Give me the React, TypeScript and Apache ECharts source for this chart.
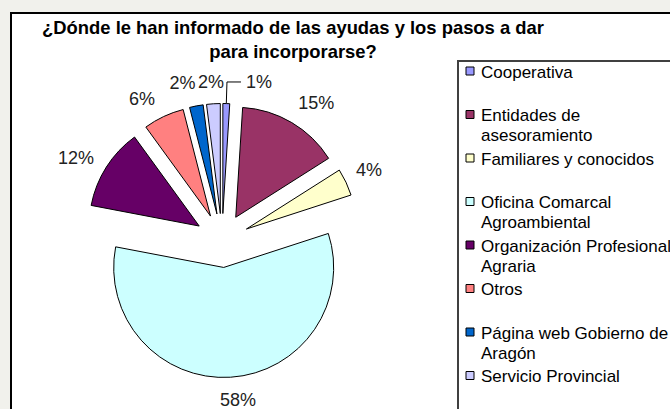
import React, { useEffect, useRef } from "react";
import * as echarts from "echarts";

const titleLines = ["¿Dónde le han informado de las ayudas y los pasos a dar", "para incorporarse?"];
const categories = [
  "Cooperativa",
  "Entidades de\nasesoramiento",
  "Familiares y conocidos",
  "Oficina Comarcal\nAgroambiental",
  "Organización Profesional\nAgraria",
  "Otros",
  "Página web Gobierno de\nAragón",
  "Servicio Provincial",
];
const values = [1, 15, 4, 58, 12, 6, 2, 2];
const colors = ["#9999FF", "#993366", "#FFFFCC", "#CCFFFF", "#660066", "#FF8080", "#0066CC", "#CCCCFF"];

// label placement tuning (styles, not data)
const labelLineLen = [21.6, 22.8, 28.4, 22.8, 17, 19.5, 23.3, 21.8];
const labelLineLen2 = [14, 0, 0, 0, 0, 0, 0, 0];
const labelDist = [5, -5, -15.7, -12, -2.1, 0.4, -3.6, -12];

const FONT = "'Liberation Sans', Arial, sans-serif";

export default function App() {
  const ref = useRef<HTMLDivElement>(null);
  useEffect(() => {
    if (!ref.current) return;
    const chart = echarts.init(ref.current, null, { renderer: "svg" });
    const total = values.reduce((a, b) => a + b, 0);

    const legendTop0 = 72;
    const legendStep = 43.5;
    const legendEls: any[] = [];
    categories.forEach((c, i) => {
      const cy = legendTop0 + i * legendStep;
      legendEls.push({
        type: "rect",
        shape: { x: 466, y: cy - 5, width: 8, height: 8 },
        style: { fill: colors[i], stroke: "#000", lineWidth: 1 },
        z: 5,
      });
      legendEls.push({
        type: "text",
        x: 481,
        y: cy - 10,
        style: {
          text: c,
          fill: "#000",
          font: `17px ${FONT}`,
          lineHeight: 20,
          verticalAlign: "top",
          align: "left",
        },
        z: 5,
      });
    });

    chart.setOption({
      animation: false,
      backgroundColor: "#f1f1ec",
      title: {
        text: titleLines.join("\n"),
        left: 293,
        top: 15,
        padding: 0,
        textAlign: "center",
        textStyle: {
          fontFamily: FONT,
          fontSize: 18.4,
          fontWeight: "bold",
          color: "#000",
          lineHeight: 24,
        },
      },
      graphic: [
        {
          type: "rect",
          shape: { x: 11, y: 13, width: 720, height: 430 },
          style: { fill: "#ffffff", stroke: "#000", lineWidth: 2 },
          z: -10,
          silent: true,
        },
        {
          type: "rect",
          shape: { x: 458, y: 61, width: 300, height: 400 },
          style: { fill: "#ffffff", stroke: "#404040", lineWidth: 2 },
          z: -5,
          silent: true,
        },
        ...legendEls,
      ],
      series: [
        {
          type: "pie",
          center: [222, 240.5],
          radius: 110,
          startAngle: 90,
          clockwise: true,
          selectedMode: "multiple",
          selectedOffset: 27,
          avoidLabelOverlap: false,
          labelLayout: { hideOverlap: false },
          emphasis: { disabled: true },
          select: { itemStyle: { borderColor: "#000", borderWidth: 1 } },
          itemStyle: { borderColor: "#000", borderWidth: 1 },
          label: {
            show: true,
            position: "outside",
            fontFamily: FONT,
            fontSize: 18,
            color: "#222",
            formatter: (p: any) => `${Math.round((p.value / total) * 100)}%`,
          },
          labelLine: { show: false, lineStyle: { color: "#000", width: 1 } },
          data: categories.map((c, i) => ({
            name: c,
            value: values[i],
            selected: true,
            itemStyle: { color: colors[i] },
            label: { distanceToLabelLine: labelDist[i] },
            labelLine: {
              show: i === 0,
              length: labelLineLen[i],
              length2: labelLineLen2[i],
              smooth: false,
            },
          })),
        },
      ],
    });
    return () => chart.dispose();
  }, []);
  return <div ref={ref} style={{ position: "fixed", left: 0, top: 0, width: 670, height: 409 }} />;
}
